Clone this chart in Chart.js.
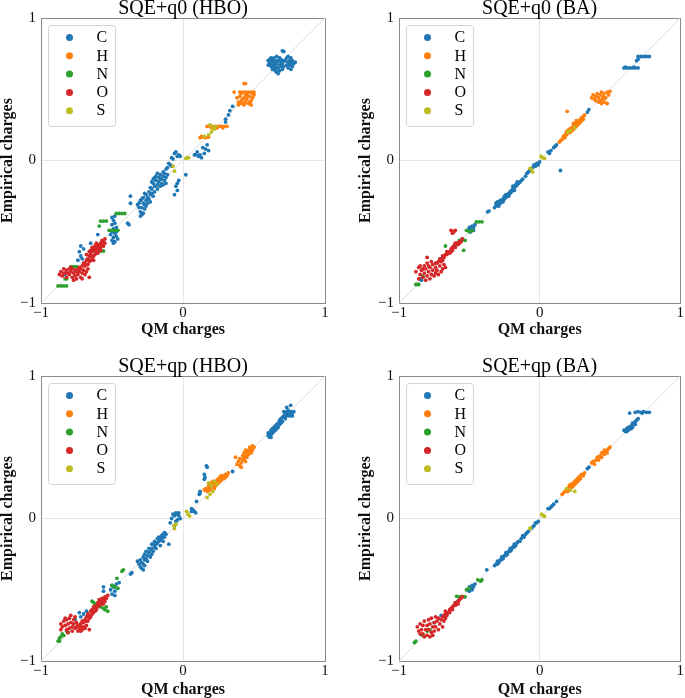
<!DOCTYPE html>
<html><head><meta charset="utf-8">
<script src="https://cdn.jsdelivr.net/npm/chart.js@4/dist/chart.umd.min.js"></script>
<style>
body{margin:0;background:#fff;width:685px;height:698px;position:relative;overflow:hidden}
canvas{position:absolute}
</style>
</head><body>
<canvas id="p1" width="340" height="338" style="left:0;top:0"></canvas>
<canvas id="p2" width="327" height="338" style="left:358px;top:0"></canvas>
<canvas id="p3" width="340" height="340" style="left:0;top:358px"></canvas>
<canvas id="p4" width="327" height="340" style="left:358px;top:358px"></canvas>
<script>
// ---- categories / labels ----
const elements = ['C', 'H', 'N', 'O', 'S'];
const elementColors = ['#1f77b4', '#ff7f0e', '#2ca02c', '#d62728', '#bcbd22'];
const panelTitles = ['SQE+q0 (HBO)', 'SQE+q0 (BA)', 'SQE+qp (HBO)', 'SQE+qp (BA)'];
const tickValues = [-1, 0, 1];
const xAxisLabel = 'QM charges';
const yAxisLabel = 'Empirical charges';
const diagonal = [-1, 1];

// ---- values: flat [qm, empirical, qm, empirical, ...] ----
// SQE+q0 (HBO)
const hboQ0C = [0.60,0.70,0.61,0.68,0.62,0.72,0.62,0.66,0.63,0.70,0.63,0.64,0.64,0.68,0.64,0.72,0.65,0.66,0.65,0.70,0.66,0.62,0.66,0.68,0.66,0.73,0.67,0.65,0.67,0.70,0.68,0.67,0.68,0.63,0.69,0.71,0.69,0.66,0.70,0.68,0.70,0.64,0.71,0.70,0.61,0.71,0.63,0.67,0.65,0.63,0.64,0.65,0.62,0.69,0.66,0.65,0.68,0.72,0.67,0.61,0.60,0.67,0.69,0.69,0.71,0.66,
0.72,0.70,0.73,0.67,0.73,0.72,0.74,0.69,0.74,0.65,0.75,0.70,0.75,0.67,0.76,0.72,0.76,0.68,0.77,0.66,0.77,0.70,0.78,0.68,0.79,0.69,0.76,0.64,0.74,0.73,0.70,0.77,0.71,0.765,
0.35,0.38,0.32,0.32,0.30,0.29,0.30,0.27,0.33,0.35,
0.17,0.11,0.16,0.08,0.18,0.07,0.15,0.05,0.12,0.04,0.11,0.03,0.09,0.04,0.08,0.04,0.14,0.09,0.10,0.06,0.13,0.02,
-0.06,0.05,-0.05,0.06,-0.04,0.03,-0.03,0.04,-0.08,0.02,-0.07,0.01,-0.10,-0.02,-0.09,-0.03,-0.11,-0.05,-0.12,-0.06,-0.08,-0.04,-0.02,0.03,
-0.03,-0.14,-0.06,-0.24,0.02,-0.10,-0.04,-0.21,-0.05,-0.18,-0.04,-0.16,
-0.22,-0.20,-0.21,-0.16,-0.20,-0.18,-0.20,-0.22,-0.19,-0.14,-0.18,-0.17,-0.18,-0.20,-0.17,-0.12,-0.17,-0.15,-0.16,-0.18,-0.16,-0.10,-0.15,-0.13,-0.15,-0.16,-0.14,-0.08,-0.14,-0.11,-0.13,-0.14,-0.13,-0.09,-0.12,-0.12,-0.19,-0.11,-0.21,-0.13,-0.23,-0.19,-0.18,-0.09,-0.16,-0.13,-0.14,-0.17,-0.12,-0.16,-0.11,-0.10,-0.22,-0.15,-0.20,-0.12,
-0.31,-0.33,-0.31,-0.30,-0.30,-0.36,-0.30,-0.28,-0.29,-0.33,-0.29,-0.38,-0.28,-0.30,-0.28,-0.26,-0.27,-0.34,-0.27,-0.31,-0.26,-0.28,-0.26,-0.24,-0.25,-0.30,-0.25,-0.26,-0.24,-0.22,-0.24,-0.27,-0.23,-0.24,-0.22,-0.23,-0.21,-0.25,-0.28,-0.37,-0.32,-0.31,-0.29,-0.27,-0.26,-0.32,-0.23,-0.29,-0.27,-0.23,-0.30,-0.39,
-0.37,-0.25,-0.37,-0.30,-0.38,-0.45,-0.39,-0.44,
-0.50,-0.40,-0.49,-0.42,-0.48,-0.39,-0.50,-0.45,-0.48,-0.44,-0.47,-0.47,-0.49,-0.48,-0.50,-0.50,-0.48,-0.51,-0.47,-0.53,-0.49,-0.54,-0.50,-0.56,-0.48,-0.57,-0.46,-0.55,-0.51,-0.52,-0.47,-0.50,-0.49,-0.58,-0.46,-0.49,
-0.73,-0.64,-0.72,-0.67,-0.71,-0.69,-0.70,-0.62,-0.74,-0.70,-0.65,-0.58,-0.60,-0.52,-0.72,-0.60,-0.83,-0.80];
const hboQ0H = [0.43,0.54,0.44,0.54,0.36,0.48,0.40,0.48,0.42,0.48,0.44,0.48,0.46,0.48,0.48,0.48,0.50,0.48,0.41,0.47,0.45,0.47,0.49,0.47,
0.38,0.44,0.39,0.41,0.40,0.45,0.41,0.42,0.42,0.40,0.43,0.44,0.44,0.41,0.45,0.43,0.46,0.40,0.47,0.45,0.48,0.42,0.49,0.44,0.50,0.46,0.39,0.39,0.42,0.43,0.45,0.45,0.47,0.41,0.40,0.40,0.43,0.39,0.48,0.39,0.44,0.46,
0.17,0.24,0.19,0.24,0.21,0.24,0.23,0.24,0.25,0.24,0.27,0.24,0.29,0.24,0.31,0.24,0.20,0.23,0.24,0.23,0.28,0.23,
0.12,0.16,0.14,0.165,0.16,0.16,0.18,0.165,0.13,0.17];
const hboQ0N = [-0.47,-0.372,-0.45,-0.372,-0.43,-0.372,-0.41,-0.372,-0.58,-0.425,-0.56,-0.425,-0.54,-0.425,-0.52,-0.49,-0.50,-0.49,-0.48,-0.49,-0.46,-0.49,-0.59,-0.46,
-0.62,-0.635,-0.60,-0.635,-0.58,-0.635,-0.56,-0.635,-0.79,-0.745,-0.77,-0.745,-0.75,-0.745,-0.83,-0.83,-0.82,-0.83,-0.88,-0.88,-0.86,-0.88,-0.84,-0.88,-0.82,-0.88];
const hboQ0O = [-0.55,-0.55,-0.56,-0.57,-0.57,-0.56,-0.57,-0.59,-0.58,-0.58,-0.58,-0.61,-0.59,-0.59,-0.59,-0.62,-0.60,-0.60,-0.60,-0.63,-0.61,-0.61,-0.61,-0.64,-0.62,-0.62,-0.62,-0.66,-0.63,-0.63,-0.63,-0.67,-0.64,-0.64,-0.64,-0.68,-0.65,-0.66,-0.65,-0.70,-0.66,-0.67,-0.66,-0.71,-0.67,-0.69,-0.67,-0.73,-0.68,-0.70,-0.69,-0.72,-0.69,-0.74,-0.70,-0.72,-0.71,-0.74,-0.56,-0.60,-0.58,-0.63,-0.60,-0.65,-0.62,-0.60,-0.64,-0.61,-0.66,-0.64,-0.68,-0.66,-0.55,-0.58,-0.61,-0.58,-0.63,-0.70,-0.65,-0.63,
-0.86,-0.78,-0.85,-0.81,-0.84,-0.76,-0.83,-0.79,-0.82,-0.77,-0.82,-0.82,-0.81,-0.79,-0.80,-0.76,-0.80,-0.80,-0.79,-0.78,-0.78,-0.82,-0.78,-0.76,-0.77,-0.79,-0.76,-0.77,-0.76,-0.81,-0.75,-0.78,-0.74,-0.80,-0.74,-0.76,-0.73,-0.78,-0.72,-0.82,-0.72,-0.76,-0.71,-0.79,-0.70,-0.77,-0.69,-0.80,-0.68,-0.78,-0.67,-0.76,-0.66,-0.82,-0.84,-0.79,-0.87,-0.80,-0.79,-0.75,-0.75,-0.83,-0.71,-0.83,-0.77,-0.84,-0.73,-0.75];
const hboQ0S = [0.19,0.25,0.21,0.23,0.22,0.22,0.20,0.20,0.18,0.18,0.23,0.24,0.15,0.17,0.03,0.02,0.02,0.015,-0.07,-0.04,-0.06,-0.075,0.04,0.02];

// SQE+q0 (BA)
const baQ0C = [0.70,0.73,0.72,0.73,0.74,0.73,0.76,0.73,0.78,0.73,0.69,0.70,0.70,0.71,
0.60,0.65,0.62,0.65,0.64,0.65,0.66,0.65,0.68,0.65,0.70,0.65,0.61,0.655,0.67,0.655,
0.35,0.357,0.34,0.34,0.06,0.06,0.08,0.07,0.10,0.09,0.11,0.10,0.07,0.05,0.12,0.11,0.148,-0.07,
-0.01,-0.03,-0.02,-0.02,-0.03,-0.04,-0.04,-0.03,-0.05,-0.05,-0.06,-0.06,-0.07,-0.07,-0.08,-0.08,-0.09,-0.09,-0.10,-0.11,0.0,-0.01,
-0.32,-0.33,-0.31,-0.32,-0.30,-0.31,-0.30,-0.29,-0.29,-0.30,-0.28,-0.30,-0.28,-0.28,-0.27,-0.28,-0.27,-0.29,-0.26,-0.27,-0.25,-0.27,-0.25,-0.25,-0.24,-0.26,-0.23,-0.24,-0.23,-0.25,-0.22,-0.23,-0.21,-0.23,-0.21,-0.22,-0.20,-0.21,-0.19,-0.20,-0.18,-0.19,-0.18,-0.21,-0.17,-0.18,-0.16,-0.17,-0.15,-0.16,-0.14,-0.15,-0.13,-0.14,-0.12,-0.13,-0.29,-0.32,-0.26,-0.29,-0.24,-0.24,-0.22,-0.25,-0.20,-0.22,-0.17,-0.17,-0.19,-0.18,-0.16,-0.15,-0.31,-0.30,
-0.37,-0.36,-0.36,-0.355,
-0.51,-0.49,-0.50,-0.47,-0.49,-0.48,-0.48,-0.46,-0.47,-0.47,-0.46,-0.45,-0.49,-0.50,-0.47,-0.49,
-0.85,-0.83,-0.84,-0.84,-0.70,-0.69,-0.60,-0.60,-0.58,-0.58,-0.55,-0.55];
const baQ0H = [0.37,0.44,0.38,0.46,0.39,0.43,0.40,0.45,0.41,0.47,0.42,0.44,0.43,0.46,0.44,0.48,0.45,0.45,0.46,0.47,0.47,0.44,0.48,0.48,0.49,0.46,0.50,0.485,0.42,0.41,0.44,0.40,0.46,0.41,0.48,0.40,0.40,0.42,0.45,0.43,0.43,0.42,
0.196,0.345,
0.14,0.13,0.15,0.14,0.16,0.15,0.17,0.17,0.18,0.16,0.19,0.18,0.20,0.19,0.20,0.21,0.21,0.20,0.22,0.22,0.22,0.20,0.23,0.23,0.23,0.21,0.24,0.24,0.24,0.22,0.25,0.25,0.25,0.23,0.26,0.26,0.26,0.24,0.27,0.27,0.27,0.25,0.28,0.28,0.28,0.26,0.29,0.29,0.29,0.27,0.30,0.30,0.31,0.31,0.31,0.29,0.32,0.32,0.21,0.22,0.19,0.20,0.26,0.28,0.30,0.28,0.24,0.26,0.18,0.18];
const baQ0N = [-0.88,-0.87,-0.87,-0.87,-0.86,-0.87,-0.57,-0.56,-0.55,-0.56,-0.53,-0.56,-0.67,-0.60,-0.54,-0.63,-0.52,-0.49,-0.50,-0.50,-0.48,-0.49,-0.45,-0.43,-0.43,-0.43,-0.41,-0.43,-0.83,-0.81,-0.60,-0.59];
const baQ0O = [-0.88,-0.78,-0.86,-0.75,-0.85,-0.80,-0.84,-0.77,-0.83,-0.82,-0.82,-0.74,-0.82,-0.79,-0.81,-0.76,-0.80,-0.81,-0.80,-0.72,-0.79,-0.78,-0.78,-0.75,-0.78,-0.83,-0.77,-0.80,-0.76,-0.73,-0.76,-0.77,-0.75,-0.81,-0.74,-0.75,-0.74,-0.79,-0.73,-0.72,-0.73,-0.77,-0.72,-0.80,-0.71,-0.74,-0.70,-0.78,-0.70,-0.71,-0.69,-0.76,-0.68,-0.73,-0.67,-0.75,-0.83,-0.76,-0.79,-0.74,-0.77,-0.71,-0.81,-0.84,-0.86,-0.83,-0.80,-0.68,-0.85,-0.74,
-0.63,-0.49,-0.61,-0.50,-0.62,-0.51,-0.60,-0.49,
-0.74,-0.72,-0.72,-0.71,-0.71,-0.69,-0.70,-0.70,-0.69,-0.67,-0.68,-0.68,-0.67,-0.66,-0.66,-0.66,-0.65,-0.64,-0.64,-0.65,-0.63,-0.62,-0.62,-0.63,-0.61,-0.60,-0.60,-0.61,-0.59,-0.58,-0.58,-0.59,-0.57,-0.57,-0.56,-0.57,-0.55,-0.55,-0.66,-0.64,-0.63,-0.64,-0.60,-0.58,-0.57,-0.58,-0.69,-0.70,-0.62,-0.61];
const baQ0S = [-0.07,-0.055,-0.06,-0.06,-0.05,-0.08,0.01,0.03,0.02,0.02,0.035,0.015,0.20,0.20,0.22,0.21,0.25,0.23];

// SQE+qp (HBO)
const hboQpC = [0.60,0.58,0.61,0.57,0.61,0.60,0.62,0.59,0.62,0.62,0.63,0.60,0.63,0.63,0.64,0.61,0.64,0.64,0.65,0.62,0.65,0.65,0.66,0.63,0.66,0.66,0.67,0.64,0.67,0.67,0.68,0.66,0.68,0.69,0.69,0.67,0.69,0.70,0.70,0.68,0.70,0.71,0.71,0.72,0.72,0.70,0.72,0.74,0.73,0.72,0.73,0.75,0.74,0.73,0.74,0.76,0.75,0.74,0.75,0.72,0.76,0.75,0.76,0.73,0.77,0.74,0.78,0.75,0.77,0.72,0.71,0.75,0.758,0.794,0.73,0.78,0.60,0.60,0.62,0.57,
0.35,0.33,0.165,0.37,0.17,0.36,0.15,0.31,0.155,0.29,0.15,0.275,0.12,0.19,0.115,0.17,0.095,0.12,0.12,0.18,
0.06,0.07,0.07,0.06,0.08,0.05,0.09,0.04,0.06,0.05,-0.05,0.04,-0.04,0.03,-0.03,0.02,-0.02,0.0,-0.06,0.02,-0.07,0.03,-0.08,0.0,-0.05,-0.02,-0.09,-0.03,-0.06,-0.05,-0.04,-0.01,-0.03,0.04,
-0.22,-0.21,-0.21,-0.18,-0.20,-0.20,-0.20,-0.16,-0.19,-0.18,-0.18,-0.14,-0.18,-0.17,-0.17,-0.13,-0.17,-0.16,-0.16,-0.15,-0.15,-0.12,-0.15,-0.14,-0.14,-0.11,-0.13,-0.13,-0.12,-0.11,-0.19,-0.21,-0.16,-0.19,-0.14,-0.16,-0.22,-0.18,-0.13,-0.10,-0.10,-0.18,
-0.31,-0.32,-0.30,-0.29,-0.30,-0.34,-0.29,-0.31,-0.28,-0.27,-0.28,-0.32,-0.27,-0.29,-0.27,-0.25,-0.26,-0.28,-0.26,-0.23,-0.25,-0.26,-0.25,-0.30,-0.24,-0.24,-0.23,-0.27,-0.23,-0.22,-0.22,-0.25,-0.21,-0.23,-0.32,-0.30,-0.29,-0.35,-0.27,-0.33,-0.24,-0.21,-0.28,-0.36,-0.37,-0.39,-0.36,-0.38,
-0.51,-0.50,-0.50,-0.53,-0.49,-0.48,-0.48,-0.51,-0.47,-0.46,-0.46,-0.49,-0.45,-0.45,-0.50,-0.47,-0.48,-0.54,-0.56,-0.48,-0.56,-0.51,
-0.73,-0.66,-0.72,-0.69,-0.70,-0.67,-0.68,-0.65,-0.76,-0.71];
const hboQpH = [0.38,0.38,0.39,0.40,0.40,0.37,0.40,0.42,0.41,0.39,0.42,0.44,0.42,0.41,0.43,0.46,0.43,0.42,0.44,0.44,0.44,0.48,0.45,0.46,0.45,0.43,0.46,0.48,0.46,0.45,0.47,0.50,0.47,0.47,0.48,0.49,0.48,0.46,0.49,0.51,0.49,0.48,0.50,0.50,0.41,0.36,0.37,0.43,0.44,0.40,
0.17,0.19,0.18,0.21,0.18,0.23,0.19,0.20,0.20,0.22,0.20,0.25,0.21,0.23,0.22,0.21,0.22,0.25,0.23,0.23,0.23,0.26,0.24,0.24,0.24,0.27,0.25,0.25,0.25,0.28,0.26,0.26,0.26,0.29,0.27,0.27,0.27,0.30,0.28,0.28,0.29,0.30,0.29,0.28,0.30,0.31,0.31,0.30,0.32,0.32,0.19,0.24,0.21,0.26,0.16,0.21,0.15,0.20,0.30,0.29];
const hboQpN = [-0.43,-0.37,-0.42,-0.36,-0.465,-0.42,-0.50,-0.47,-0.48,-0.48,-0.46,-0.49,-0.58,-0.62,-0.56,-0.63,-0.55,-0.64,-0.54,-0.62,-0.53,-0.65,-0.64,-0.58,-0.62,-0.60,-0.63,-0.59,
-0.88,-0.86,-0.87,-0.84,-0.86,-0.83,-0.85,-0.81,-0.84,-0.82,-0.82,-0.79,-0.81,-0.80,-0.87,-0.86];
const hboQpO = [-0.53,-0.54,-0.54,-0.56,-0.55,-0.55,-0.55,-0.58,-0.56,-0.57,-0.57,-0.59,-0.57,-0.56,-0.58,-0.60,-0.58,-0.58,-0.59,-0.61,-0.60,-0.59,-0.60,-0.62,-0.61,-0.61,-0.62,-0.63,-0.62,-0.65,-0.63,-0.62,-0.63,-0.66,-0.64,-0.64,-0.64,-0.67,-0.65,-0.65,-0.66,-0.68,-0.66,-0.70,-0.67,-0.67,-0.68,-0.69,-0.68,-0.72,-0.69,-0.71,-0.70,-0.73,-0.71,-0.72,-0.72,-0.74,-0.65,-0.69,-0.61,-0.64,-0.59,-0.57,-0.67,-0.72,-0.56,-0.60,
-0.86,-0.74,-0.85,-0.76,-0.84,-0.72,-0.83,-0.75,-0.82,-0.78,-0.82,-0.71,-0.81,-0.74,-0.80,-0.77,-0.80,-0.70,-0.79,-0.73,-0.78,-0.76,-0.78,-0.79,-0.77,-0.71,-0.77,-0.74,-0.76,-0.77,-0.75,-0.73,-0.75,-0.76,-0.74,-0.79,-0.74,-0.75,-0.73,-0.77,-0.72,-0.76,-0.71,-0.78,-0.70,-0.76,-0.69,-0.77,-0.68,-0.75,-0.83,-0.70,-0.79,-0.68,-0.76,-0.69,-0.81,-0.80,-0.86,-0.78,-0.72,-0.79,-0.66,-0.78];
const hboQpS = [0.18,0.25,0.20,0.23,0.22,0.26,0.24,0.24,0.21,0.19,0.19,0.17,0.17,0.146,0.025,0.05,0.035,0.03,0.047,0.017,-0.05,-0.04,-0.06,-0.07,-0.065,-0.05];

// SQE+qp (BA)
const baQpC = [0.68,0.745,0.70,0.75,0.72,0.745,0.74,0.75,0.76,0.745,0.78,0.745,0.73,0.74,0.64,0.74,
0.60,0.62,0.61,0.61,0.62,0.63,0.63,0.62,0.63,0.64,0.64,0.64,0.65,0.65,0.66,0.64,0.66,0.67,0.67,0.66,0.68,0.68,0.69,0.69,0.70,0.70,0.62,0.61,0.65,0.63,0.68,0.66,
0.34,0.35,0.35,0.36,0.06,0.07,0.08,0.08,0.10,0.10,0.12,0.12,0.09,0.09,0.07,0.07,
-0.01,-0.02,-0.02,-0.03,-0.03,-0.03,-0.04,-0.05,-0.05,-0.06,-0.06,-0.07,-0.08,-0.09,-0.09,-0.10,-0.10,-0.11,-0.11,-0.13,-0.12,-0.12,-0.13,-0.14,-0.14,-0.16,-0.15,-0.16,-0.16,-0.17,-0.17,-0.19,-0.18,-0.18,-0.19,-0.20,-0.20,-0.22,-0.21,-0.21,-0.22,-0.23,-0.23,-0.25,-0.24,-0.24,-0.25,-0.26,-0.26,-0.28,-0.27,-0.27,-0.28,-0.29,-0.29,-0.31,-0.30,-0.30,-0.31,-0.32,-0.32,-0.33,-0.27,-0.29,-0.24,-0.26,-0.21,-0.23,-0.18,-0.20,-0.30,-0.32,
-0.376,-0.36,
-0.51,-0.50,-0.50,-0.48,-0.49,-0.49,-0.48,-0.47,-0.47,-0.48,-0.46,-0.46,-0.50,-0.51,-0.48,-0.50,
-0.60,-0.60,-0.58,-0.58,-0.56,-0.55,-0.70,-0.68,-0.75,-0.73];
const baQpH = [0.37,0.39,0.38,0.40,0.39,0.38,0.40,0.41,0.41,0.43,0.42,0.41,0.43,0.44,0.44,0.43,0.45,0.46,0.46,0.45,0.47,0.47,0.48,0.46,0.49,0.49,0.50,0.50,0.44,0.46,0.46,0.48,0.42,0.43,0.48,0.48,
0.16,0.17,0.17,0.18,0.18,0.19,0.19,0.19,0.20,0.21,0.21,0.21,0.21,0.23,0.22,0.22,0.23,0.24,0.23,0.22,0.24,0.25,0.25,0.24,0.25,0.26,0.26,0.27,0.27,0.26,0.27,0.28,0.28,0.29,0.29,0.28,0.29,0.30,0.30,0.31,0.31,0.30,0.32,0.32,0.22,0.24,0.24,0.23,0.26,0.25,0.28,0.27,0.20,0.19];
const baQpN = [-0.89,-0.87,-0.88,-0.86,-0.84,-0.815,-0.83,-0.82,-0.59,-0.546,-0.57,-0.55,-0.55,-0.546,-0.53,-0.55,-0.52,-0.50,-0.50,-0.49,-0.44,-0.43,-0.42,-0.44,-0.41,-0.43,-0.78,-0.78,-0.80,-0.79];
const baQpO = [-0.87,-0.76,-0.86,-0.79,-0.85,-0.74,-0.84,-0.78,-0.83,-0.81,-0.83,-0.75,-0.82,-0.72,-0.81,-0.78,-0.80,-0.75,-0.80,-0.82,-0.79,-0.71,-0.79,-0.78,-0.78,-0.74,-0.77,-0.80,-0.77,-0.70,-0.76,-0.76,-0.75,-0.73,-0.75,-0.79,-0.74,-0.69,-0.74,-0.76,-0.73,-0.72,-0.72,-0.78,-0.71,-0.74,-0.70,-0.71,-0.69,-0.76,-0.68,-0.72,-0.67,-0.70,-0.82,-0.83,-0.78,-0.83,-0.76,-0.82,-0.85,-0.81,-0.72,-0.70,
-0.69,-0.69,-0.68,-0.68,-0.67,-0.67,-0.66,-0.66,-0.65,-0.66,-0.64,-0.64,-0.63,-0.63,-0.62,-0.62,-0.61,-0.61,-0.60,-0.61,-0.59,-0.59,-0.58,-0.58,-0.57,-0.57,-0.56,-0.56,-0.55,-0.55,-0.66,-0.68,-0.64,-0.66,-0.62,-0.64,-0.60,-0.59,-0.58,-0.60,-0.67,-0.65];
const baQpS = [-0.065,-0.067,-0.07,-0.07,0.015,0.03,0.025,0.02,0.035,0.015,0.19,0.21,0.22,0.20,0.25,0.19];

// ---- build charts ----
const panelSeries = [
  [hboQ0C, hboQ0H, hboQ0N, hboQ0O, hboQ0S],
  [baQ0C, baQ0H, baQ0N, baQ0O, baQ0S],
  [hboQpC, hboQpH, hboQpN, hboQpO, hboQpS],
  [baQpC, baQpH, baQpN, baQpO, baQpS]
];
const canvasIds = ['p1', 'p2', 'p3', 'p4'];
const rightPad = [15, 3, 15, 3];
const xAxisHeight = [35, 35, 37, 37];

const SERIF = '"Liberation Serif", "DejaVu Serif", serif';
const FRAME = '#8a8a8a';
const GRID0 = '#e6e6e6';

function toPoints(flat) {
  const out = [];
  for (let i = 0; i < flat.length; i += 2) out.push({ x: flat[i], y: flat[i + 1] });
  return out;
}
function fmtTick(v) { return v < 0 ? '\u2212' + Math.abs(v) : String(v); }

const insideLegend = {
  id: 'insideLegend',
  afterDraw(chart) {
    const ctx = chart.ctx, a = chart.chartArea;
    const x0 = Math.round(a.left + 7) + 0.5, y0 = Math.round(a.top + 7) + 0.5, w = 67, h = 101;
    ctx.save();
    ctx.fillStyle = 'rgba(255,255,255,0.8)';
    ctx.strokeStyle = '#d4d4d4';
    ctx.lineWidth = 1;
    ctx.beginPath();
    ctx.roundRect(x0, y0, w, h, 3);
    ctx.fill();
    ctx.stroke();
    ctx.font = '16px ' + SERIF;
    ctx.textBaseline = 'middle';
    ctx.textAlign = 'left';
    elements.forEach((el, i) => {
      const cy = y0 + 12 + i * 18.3;
      ctx.fillStyle = elementColors[i];
      ctx.beginPath();
      ctx.arc(x0 + 21, cy, 3.5, 0, Math.PI * 2);
      ctx.fill();
      ctx.fillStyle = '#000';
      ctx.fillText(el, x0 + 48, cy + 0.5);
    });
    ctx.restore();
  }
};

function axisCfg(isX, idx) {
  return {
    type: 'linear',
    min: -1, max: 1,
    afterBuildTicks: s => { s.ticks = tickValues.map(v => ({ value: v })); },
    afterFit: s => { if (isX) s.height = xAxisHeight[idx]; else s.width = 41; },
    ticks: {
      callback: v => fmtTick(v),
      color: '#111',
      font: { family: SERIF, size: 15 },
      padding: isX ? 1 : 5,
      maxRotation: 0, autoSkip: false
    },
    grid: {
      drawTicks: false,
      lineWidth: 1,
      color: c => (c.tick && c.tick.value === 0) ? GRID0 : (c.tick && c.tick.value === 1 ? FRAME : 'rgba(0,0,0,0)')
    },
    border: { display: true, color: FRAME, width: 1 },
    title: {
      display: true,
      text: isX ? xAxisLabel : yAxisLabel,
      color: '#111',
      font: { family: SERIF, size: 16, weight: 'bold', lineHeight: 1 },
      padding: 0
    }
  };
}

panelSeries.forEach((series, p) => {
  const datasets = series.map((flat, i) => ({
    type: 'scatter',
    label: elements[i],
    data: toPoints(flat),
    backgroundColor: elementColors[i],
    borderWidth: 0,
    pointRadius: 1.9,
    order: 5 - i
  }));
  datasets.push({
    type: 'line',
    label: 'y = x',
    data: diagonal.map(v => ({ x: v, y: v })),
    borderColor: '#dcdcdc',
    borderWidth: 1,
    pointRadius: 0,
    showLine: true,
    fill: false,
    order: 10
  });
  new Chart(document.getElementById(canvasIds[p]), {
    type: 'scatter',
    data: { datasets },
    options: {
      responsive: false,
      animation: false,
      devicePixelRatio: 1,
      events: [],
      layout: { padding: { left: 0, right: rightPad[p], top: 0, bottom: 0 } },
      scales: { x: axisCfg(true, p), y: axisCfg(false, p) },
      plugins: {
        legend: { display: false },
        tooltip: { enabled: false },
        title: {
          display: true,
          text: panelTitles[p],
          fullSize: false,
          color: '#000',
          font: { family: SERIF, size: 20, weight: 'normal', lineHeight: 0.9 },
          padding: { top: 0, bottom: 0 }
        }
      }
    },
    plugins: [insideLegend]
  });
});
</script>
</body></html>
